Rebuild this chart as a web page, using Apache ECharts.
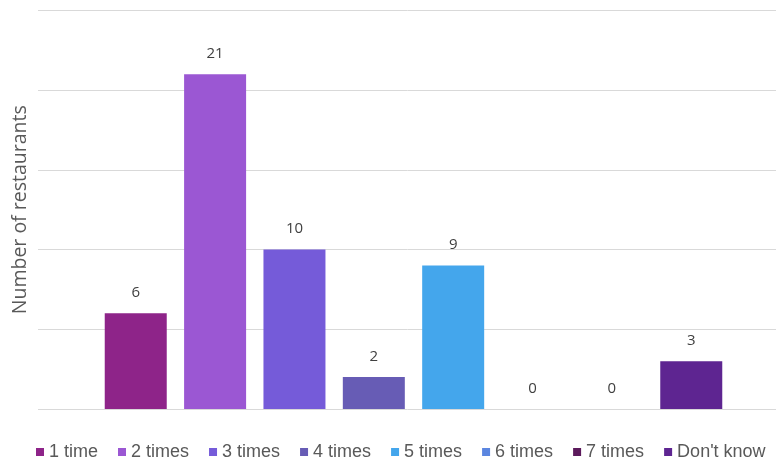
<!DOCTYPE html>
<html>
<head>
<meta charset="utf-8">
<script src="https://cdn.jsdelivr.net/npm/echarts@6/dist/echarts.min.js"></script>
<style>
  html, body { margin: 0; padding: 0; background: #ffffff; }
  #chart { width: 776px; height: 463px; }
</style>
</head>
<body>
<div id="chart"></div>
<script>
// Number of restaurants by how many times they were visited
const categories = ['1 time', '2 times', '3 times', '4 times', '5 times', '6 times', '7 times', "Don't know"];
const counts = [6, 21, 10, 2, 9, 0, 0, 3];
const yTicks = { min: 0, max: 25, interval: 5 };

const palette = ['#8E2489', '#9B57D3', '#755BD9', '#675CB5', '#44A6EC', '#5B86E0', '#5C1A5C', '#5E2591'];

const chart = echarts.init(document.getElementById('chart'), null, { renderer: 'canvas' });

// One series per answer, all sharing a single category slot (clustered layout)
const series = categories.map((name, i) => ({
  name: name,
  type: 'bar',
  data: [counts[i]],
  barWidth: 62,
  barGap: '28%',
  itemStyle: { color: palette[i] },
  label: {
    show: true,
    position: 'top',
    distance: 13,
    color: '#404040',
    fontFamily: 'Open Sans',
    fontSize: 15
  }
}));

chart.setOption({
  animation: false,
  backgroundColor: '#ffffff',
  grid: { left: 38, top: 10.5, width: 751, bottom: 54, containLabel: false, outerBoundsMode: 'none' },
  legend: {
    data: categories,
    left: 31,
    top: 438,
    icon: 'rect',
    itemWidth: 8,
    itemHeight: 8,
    itemGap: 20,
    textStyle: { color: '#595959', fontFamily: 'Liberation Sans', fontSize: 18 }
  },
  xAxis: {
    type: 'category',
    data: [''],
    axisLine: { show: false },
    axisTick: { show: false },
    axisLabel: { show: false }
  },
  yAxis: {
    type: 'value',
    min: yTicks.min,
    max: yTicks.max,
    interval: yTicks.interval,
    name: 'Number of restaurants',
    nameLocation: 'middle',
    nameGap: 8,
    nameTextStyle: { color: '#595959', fontFamily: 'Open Sans', fontSize: 19.5 },
    axisLine: { show: false },
    axisTick: { show: false },
    axisLabel: { show: false },
    splitLine: { lineStyle: { color: '#d9d9d9', width: 1 } }
  },
  series: series
});
</script>
</body>
</html>
